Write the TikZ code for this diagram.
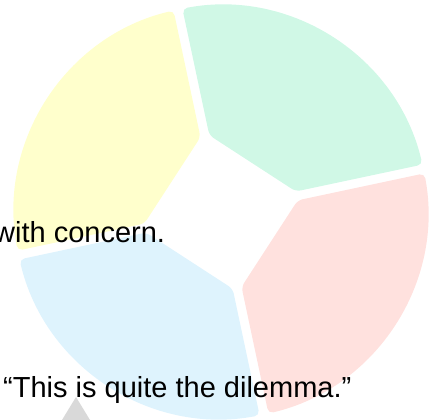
\documentclass[tikz,border=0pt]{standalone}
\usepackage{fontspec}
\setmainfont{Liberation Sans}
\usetikzlibrary{calc}
\definecolor{segyellow}{HTML}{FFFFCC}
\definecolor{seggreen}{HTML}{D0F8E6}
\definecolor{segred}{HTML}{FFE1DE}
\definecolor{segblue}{HTML}{DEF3FD}
\definecolor{tri}{HTML}{D9D9D9}
\tikzset{
  seg/.style={rounded corners=5pt, draw=none},
  lbl/.style={anchor=base west, inner sep=0pt, font=\fontsize{29}{34}\selectfont, text=black},
}
\newcommand{\segment}[3]{%
  \fill[seg,#3]
    ($($(C)+(#1:82)$)!6.4pt!($(C)+(#2:82)$)$)
    -- ($(C)+(#1+1.25:207)$)
    arc[start angle=#1+1.25, end angle=#2-1.25, radius=207pt]
    -- ($($(C)+(#2:82)$)!6.4pt!($(C)+(#1:82)$)$)
    -- cycle;}
\begin{document}
\begin{tikzpicture}[x=1pt,y=1pt]
\useasboundingbox (0,0) rectangle (429,420);
\coordinate (C) at (221,208);
\segment{12}{102}{fill=seggreen}
\segment{102}{192}{fill=segyellow}
\segment{192}{282}{fill=segblue}
\segment{282}{372}{fill=segred}
\coordinate (t1) at (76,23);
\coordinate (t2) at (62,0);
\coordinate (t3) at (90,0);
\fill[tri] (t1) -- (t2) -- (t3) -- cycle;
\node[lbl] (concern) at (-6,177) {with concern.};
\node[lbl] (dilemma) at (3,22) {“This is quite the dilemma.”};
\end{tikzpicture}
\end{document}
